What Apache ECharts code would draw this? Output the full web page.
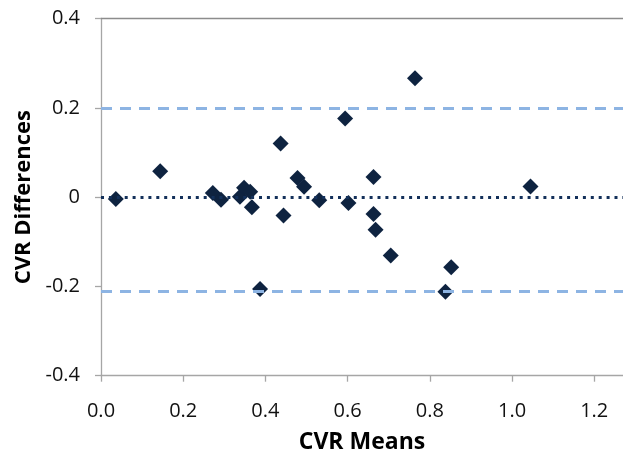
<!DOCTYPE html>
<html>
<head>
<meta charset="utf-8">
<script src="https://cdn.jsdelivr.net/npm/echarts@6/dist/echarts.min.js"></script>
<style>html,body{margin:0;padding:0;background:#fff}#c{width:623px;height:460px}</style>
</head>
<body>
<div id="c"></div>
<script>
// CVR Means (x) and CVR Differences (y)
var cvrMeans = [0.036, 0.144, 0.272, 0.292, 0.338, 0.348, 0.363, 0.367, 0.387, 0.437, 0.444, 0.478, 0.494, 0.531, 0.594, 0.602, 0.663, 0.663, 0.668, 0.705, 0.764, 0.838, 0.852, 1.045];
var cvrDiffs = [-0.004, 0.058, 0.009, -0.006, 0.001, 0.021, 0.012, -0.023, -0.206, 0.120, -0.041, 0.043, 0.023, -0.007, 0.176, -0.013, 0.045, -0.038, -0.073, -0.131, 0.266, -0.212, -0.157, 0.024];
var meanDiff = -0.004;
var upperLoA = 0.198;
var lowerLoA = -0.206;
var xTicks = ['0.0', '0.2', '0.4', '0.6', '0.8', '1.0', '1.2'];
var yTicks = ['-0.4', '-0.2', '0', '0.2', '0.4'];

var points = cvrMeans.map(function (m, i) { return [m, cvrDiffs[i]]; });
var font = '"Open Sans", "Liberation Sans", sans-serif';

var chart = echarts.init(document.getElementById('c'));
chart.setOption({
  animation: false,
  backgroundColor: '#ffffff',
  grid: { left: 101, right: 0, top: 18.5, bottom: 84.3 },
  xAxis: [{
    type: 'value', min: 0, max: 1.27, interval: 0.2, position: 'bottom',
    name: 'CVR Means', nameLocation: 'middle', nameGap: 55,
    nameTextStyle: { fontFamily: font, fontSize: 23, fontWeight: 'bold', color: '#000' },
    axisLine: { show: true, onZero: false, lineStyle: { color: '#a6a6a6', width: 1.3 } },
    axisTick: { show: true, length: 6, lineStyle: { color: '#a6a6a6', width: 1.3 } },
    axisLabel: {
      fontFamily: font, fontSize: 20, color: '#111', margin: 26, showMaxLabel: false,
      formatter: function (v) {
        var s = v.toFixed(1);
        return xTicks.indexOf(s) >= 0 && Math.abs(v * 5 - Math.round(v * 5)) < 1e-6 ? s : '';
      }
    },
    splitLine: { show: false }
  }, {
    type: 'value', position: 'top', min: 0, max: 1.27,
    axisLine: { show: true, onZero: false, lineStyle: { color: '#8c8c8c', width: 1.3 } },
    axisTick: { show: false }, axisLabel: { show: false }, splitLine: { show: false }
  }],
  yAxis: {
    type: 'value', min: -0.4, max: 0.4, interval: 0.2, position: 'left',
    name: 'CVR Differences', nameLocation: 'middle', nameGap: 63,
    nameTextStyle: { fontFamily: font, fontSize: 22, fontWeight: 'bold', color: '#000' },
    axisLine: { show: true, onZero: false, lineStyle: { color: '#a6a6a6', width: 1.3 } },
    axisTick: { show: true, length: 6, lineStyle: { color: '#a6a6a6', width: 1.3 } },
    axisLabel: {
      fontFamily: font, fontSize: 20, color: '#111', margin: 21,
      formatter: function (v) {
        var s = Math.abs(v) < 1e-9 ? '0' : v.toFixed(1);
        return yTicks.indexOf(s) >= 0 ? s : '';
      }
    },
    splitLine: { show: false }
  },
  series: [{
    type: 'scatter',
    data: points,
    symbol: 'diamond',
    symbolSize: 16,
    itemStyle: { color: '#0e2340', opacity: 1 },
    z: 2
  }, {
    type: 'scatter',
    data: [],
    z: 5,
    markLine: {
      silent: true, symbol: ['none', 'none'], animation: false,
      label: { show: false },
      emphasis: { disabled: true },
      data: [
        { yAxis: upperLoA, lineStyle: { color: '#8db4e3', width: 3, type: [11, 8], cap: 'butt', opacity: 1 } },
        { yAxis: lowerLoA, lineStyle: { color: '#8db4e3', width: 3, type: [11, 8], cap: 'butt', opacity: 1 } },
        { yAxis: meanDiff, lineStyle: { color: '#13305a', width: 3, type: [3, 4.9], cap: 'butt', opacity: 1 } }
      ]
    }
  }]
});
</script>
</body>
</html>
